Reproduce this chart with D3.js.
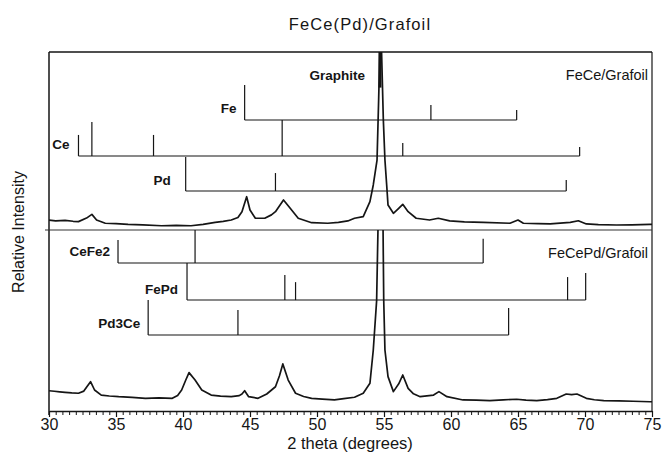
<!DOCTYPE html>
<html>
<head>
<meta charset="utf-8">
<script src="https://cdn.jsdelivr.net/npm/d3@7"></script>
<style>
  html, body { margin: 0; padding: 0; background: #fff; }
  svg { display: block; font-family: "Liberation Sans", Arial, sans-serif; }
</style>
</head>
<body>
<svg id="chart" width="663" height="455"></svg>
<script>
// ---------------- DATA ----------------
const chartTitle = "FeCe(Pd)/Grafoil";
const xTickValues = [30, 35, 40, 45, 50, 55, 60, 65, 70, 75];

// Measured XRD pattern, FeCe/Grafoil (upper panel), [2theta, relative intensity]
const feCePattern = [
  [30.0, 5.6], [30.5, 5.1], [31.2, 5.4], [31.8, 4.9], [32.2, 4.7], [32.8, 6.7], [33.2, 8.8],
  [33.55, 5.6], [34.2, 3.8], [35.0, 3.6], [35.9, 3.2], [37.0, 2.9], [38.4, 2.4], [39.5, 2.6],
  [40.6, 2.4], [41.5, 3.2], [42.4, 4.3], [43.0, 4.8], [43.6, 5.6], [44.1, 7.0], [44.4, 10.3],
  [44.75, 18.7], [45.0, 11.2], [45.4, 6.6], [46.1, 6.6], [46.6, 8.5], [46.9, 10.3], [47.5, 16.9],
  [48.0, 12.2], [48.6, 6.6], [49.6, 4.1], [50.8, 3.8], [51.6, 4.3], [52.3, 5.1], [52.8, 6.6],
  [53.45, 7.5], [53.95, 15.9], [54.2, 25.3], [54.48, 39.3], [54.6, 73], [54.75, 120], [54.95, 62],
  [55.07, 39.3], [55.2, 25.3], [55.3, 14.0], [55.7, 9.4], [56.0, 11.5], [56.4, 14.4], [56.8, 10.3],
  [57.4, 6.6], [58.4, 5.6], [59.05, 6.6], [59.9, 5.1], [61.0, 4.6], [62.4, 4.3], [64.4, 3.8],
  [65.0, 5.6], [65.4, 3.8], [66.5, 3.6], [67.4, 3.4], [68.9, 4.3], [69.5, 5.2], [70.1, 3.4],
  [71.0, 3.0], [72.35, 2.8], [73.5, 2.9], [74.85, 3.2], [75.0, 3.2]
];

// Measured XRD pattern, FeCePd/Grafoil (lower panel)
const feCePdPattern = [
  [30.0, 11.2], [30.4, 10.9], [30.8, 10.6], [31.2, 10.3], [31.7, 10.0], [32.2, 9.8], [32.6, 11.0],
  [32.8, 13.1], [33.1, 16.2], [33.4, 11.6], [33.9, 8.8], [34.5, 8.3], [35.2, 7.9], [36.2, 7.5],
  [37.2, 7.0], [38.2, 7.3], [39.2, 7.0], [39.6, 8.6], [39.9, 11.6], [40.2, 17.0], [40.45, 21.2],
  [40.9, 17.1], [41.4, 11.6], [42.1, 8.8], [42.8, 8.2], [43.6, 7.9], [44.2, 8.5], [44.4, 9.4],
  [44.6, 11.2], [44.9, 7.9], [45.6, 7.0], [46.25, 9.4], [46.9, 13.4], [47.2, 19.5], [47.45, 26.0],
  [47.85, 17.1], [48.4, 9.8], [49.0, 8.0], [49.6, 7.0], [50.4, 6.6], [51.3, 6.1], [52.0, 6.8],
  [52.8, 7.6], [53.45, 9.8], [53.95, 15.3], [54.2, 33.7], [54.45, 61], [54.55, 100], [54.72, 150],
  [54.93, 100], [54.98, 61], [55.07, 33.7], [55.3, 19.0], [55.7, 10.7], [56.1, 15.0], [56.4, 19.9],
  [56.8, 12.5], [57.2, 9.5], [57.7, 7.9], [58.7, 8.8], [59.1, 10.7], [59.7, 7.9], [60.9, 6.1],
  [61.9, 6.0], [62.9, 5.7], [63.9, 6.2], [64.9, 6.5], [65.6, 6.0], [66.4, 5.7], [67.2, 6.3],
  [67.9, 7.0], [68.6, 9.4], [69.0, 9.0], [69.4, 9.4], [70.1, 7.0], [70.7, 6.2], [71.4, 5.7],
  [72.5, 5.6], [73.6, 5.4], [74.85, 5.1], [75.0, 5.1]
];

// Reference stick patterns: [2theta, stick height]; base = intensity level of the comb's baseline
const fePeaks    = [[44.6, 19.7], [58.5, 8.4], [64.9, 5.6]];
const cePeaks    = [[32.2, 11.8], [33.2, 19.1], [37.8, 11.8], [47.4, 20.2], [56.4, 7.3], [69.6, 5.0]];
const pdPeaks    = [[40.2, 19.1], [46.9, 10.1], [68.6, 6.2]];
const ceFe2Peaks = [[35.15, 12.7], [40.9, 18.2], [62.4, 13.3]];
const fePdPeaks  = [[40.3, 20.4], [47.6, 13.8], [48.4, 9.9], [68.7, 12.7], [70.05, 14.9]];
const pd3CePeaks = [[37.4, 19.3], [44.1, 13.8], [64.3, 14.9]];
const graphitePeak = [54.7, 80, 100]; // 2theta, from, to

const phaseNames = ["Fe", "Ce", "Pd", "CeFe2", "FePd", "Pd3Ce"];
const phasePanel = ["top", "top", "top", "bottom", "bottom", "bottom"];
const phaseBase  = [61.8, 41.6, 21.9, 81.8, 61.3, 42.0];
const phasePeaks = [fePeaks, cePeaks, pdPeaks, ceFe2Peaks, fePdPeaks, pd3CePeaks];

const panelLabels = ["FeCe/Grafoil", "FeCePd/Grafoil"];

// ---------------- LAYOUT ----------------
const L = { left: 49, right: 652, top: 52, mid: 230, bottom: 411 };
const labelGap = [8, 9, 15, 8, 9, 8];
const ink = "#151515";

const svg = d3.select("#chart");
const x = d3.scaleLinear().domain([30, 75]).range([L.left, L.right]);
const yTop = d3.scaleLinear().domain([0, 100]).range([L.mid, L.top]);
const yBot = d3.scaleLinear().domain([0, 100]).range([L.bottom, L.mid]);
const yFor = p => (p === "top" ? yTop : yBot);

const defs = svg.append("defs");
defs.append("clipPath").attr("id", "clipTop").append("rect")
  .attr("x", L.left).attr("y", L.top).attr("width", L.right - L.left).attr("height", L.mid - L.top);
defs.append("clipPath").attr("id", "clipBot").append("rect")
  .attr("x", L.left).attr("y", L.mid).attr("width", L.right - L.left).attr("height", L.bottom - L.mid);

// Title
svg.append("text").attr("x", 360).attr("y", 30).attr("text-anchor", "middle")
  .attr("font-size", 16.5).attr("letter-spacing", 1.1).attr("fill", ink).text(chartTitle);

// Frame
svg.append("line").attr("x1", L.left).attr("x2", L.right).attr("y1", L.top).attr("y2", L.top)
  .attr("stroke", ink).attr("stroke-width", 1.3);
svg.append("line").attr("x1", L.right).attr("x2", L.right).attr("y1", L.top).attr("y2", L.bottom)
  .attr("stroke", ink).attr("stroke-width", 1.2);
svg.append("line").attr("x1", L.left).attr("x2", L.left).attr("y1", L.top).attr("y2", L.bottom + 4)
  .attr("stroke", ink).attr("stroke-width", 1.5);
svg.append("line").attr("x1", L.left - 4).attr("x2", L.right).attr("y1", L.mid).attr("y2", L.mid)
  .attr("stroke", "#333").attr("stroke-width", 1.1);

// X axis
const minor = d3.range(30, 75.01, 0.5).filter(v => Math.abs(v % 5) > 1e-6);
svg.append("g").attr("transform", `translate(0,${L.bottom})`)
  .call(d3.axisBottom(x).tickValues(minor).tickSize(4).tickFormat(""))
  .call(g => g.select(".domain").remove())
  .call(g => g.selectAll("line").attr("stroke", ink).attr("stroke-width", 1));
const xAxis = svg.append("g").attr("transform", `translate(0,${L.bottom})`)
  .call(d3.axisBottom(x).tickValues(xTickValues).tickSize(6).tickPadding(1.5).tickFormat(d3.format("d")).tickSizeOuter(0));
xAxis.select(".domain").attr("stroke", ink).attr("stroke-width", 1.5);
xAxis.selectAll(".tick line").attr("stroke", ink).attr("stroke-width", 1.2);
xAxis.selectAll(".tick text").attr("font-size", 16).attr("fill", ink)
  .attr("font-family", "'Liberation Sans', Arial, sans-serif");

svg.append("text").attr("x", 350).attr("y", 449).attr("text-anchor", "middle")
  .attr("font-size", 16.5).attr("fill", ink).text("2 theta (degrees)");
svg.append("text").attr("transform", "translate(24,232) rotate(-90)").attr("text-anchor", "middle")
  .attr("font-size", 16).attr("fill", ink).text("Relative Intensity");

// Measured patterns
const lineTop = d3.line().x(d => x(d[0])).y(d => yTop(d[1]));
const lineBot = d3.line().x(d => x(d[0])).y(d => yBot(d[1]));
svg.append("path").datum(feCePattern).attr("clip-path", "url(#clipTop)")
  .attr("d", lineTop).attr("fill", "none").attr("stroke", ink).attr("stroke-width", 1.7)
  .attr("stroke-linejoin", "round");
svg.append("path").datum(feCePdPattern).attr("clip-path", "url(#clipBot)")
  .attr("d", lineBot).attr("fill", "none").attr("stroke", ink).attr("stroke-width", 1.7)
  .attr("stroke-linejoin", "round");

// Reference combs
phaseNames.forEach((name, i) => {
  const y = yFor(phasePanel[i]);
  const peaks = phasePeaks[i];
  const base = phaseBase[i];
  const g = svg.append("g");
  const x0 = d3.min(peaks, d => d[0]), x1 = d3.max(peaks, d => d[0]);
  g.append("line").attr("x1", x(x0)).attr("x2", x(x1)).attr("y1", y(base)).attr("y2", y(base))
    .attr("stroke", ink).attr("stroke-width", 1.1);
  g.selectAll("line.stick").data(peaks).join("line").attr("class", "stick")
    .attr("x1", d => x(d[0])).attr("x2", d => x(d[0]))
    .attr("y1", y(base)).attr("y2", d => y(base + d[1]))
    .attr("stroke", ink).attr("stroke-width", 1.2);
  g.append("text").attr("x", x(x0) - labelGap[i]).attr("y", y(base) - 6.5)
    .attr("text-anchor", "end").attr("font-size", 13.5).attr("font-weight", "bold")
    .attr("fill", ink).text(name);
});

// Graphite reference
svg.append("line").attr("x1", x(graphitePeak[0])).attr("x2", x(graphitePeak[0]))
  .attr("y1", yTop(graphitePeak[1])).attr("y2", yTop(graphitePeak[2]))
  .attr("stroke", ink).attr("stroke-width", 3);
svg.append("text").attr("x", x(graphitePeak[0]) - 15).attr("y", 80).attr("text-anchor", "end")
  .attr("font-size", 13.5).attr("font-weight", "bold").attr("fill", ink).text("Graphite");

// Panel labels
svg.append("text").attr("x", 648).attr("y", 80).attr("text-anchor", "end")
  .attr("font-size", 14.5).attr("fill", ink).text(panelLabels[0]);
svg.append("text").attr("x", 648).attr("y", 258).attr("text-anchor", "end")
  .attr("font-size", 14.5).attr("fill", ink).text(panelLabels[1]);
</script>
</body>
</html>
